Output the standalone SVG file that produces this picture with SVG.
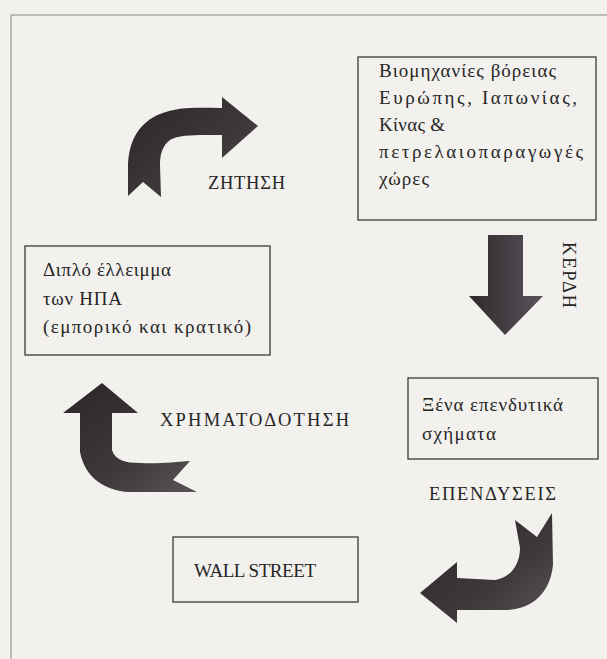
<svg xmlns="http://www.w3.org/2000/svg" width="607" height="659" viewBox="0 0 607 659">
<style>
.box{fill:none;stroke:#3a3a3a;stroke-width:1.3}
.t{font-family:"Liberation Serif","Times New Roman",serif;font-size:19px;fill:#262626}
.lbl{font-family:"Liberation Serif","Times New Roman",serif;font-size:18.5px;fill:#262626}
.arr{stroke:none}
</style>
<defs>
<linearGradient id="g1" x1="0" y1="0" x2="1" y2="1">
<stop offset="0" stop-color="#2b2729"/>
<stop offset="0.6" stop-color="#3d393b"/>
<stop offset="1" stop-color="#5a5558"/>
</linearGradient>
<linearGradient id="g2" x1="0" y1="0" x2="1" y2="0">
<stop offset="0" stop-color="#2e2a2c"/>
<stop offset="1" stop-color="#58535a"/>
</linearGradient>
</defs>
<rect x="0" y="0" width="607" height="659" fill="#f3f1ee"/>
<path d="M11,659 L11,15 L607,15" fill="none" stroke="#8a8785" stroke-width="1"/>

<g id="node-industries">
<rect class="box" x="358" y="57" width="238" height="163"/>
<text class="t" x="379" y="77" textLength="177" lengthAdjust="spacing">Βιομηχανίες βόρειας</text>
<text class="t" x="379" y="104" textLength="198" lengthAdjust="spacing">Ευρώπης, Ιαπωνίας,</text>
<text class="t" x="379" y="131" textLength="66" lengthAdjust="spacing">Κίνας &amp;</text>
<text class="t" x="379" y="158" textLength="204" lengthAdjust="spacing">πετρελαιοπαραγωγές</text>
<text class="t" x="379" y="185" textLength="50" lengthAdjust="spacing">χώρες</text>
</g>

<g id="node-deficit">
<rect class="box" x="25" y="246" width="245" height="109"/>
<text class="t" x="43" y="276" textLength="128" lengthAdjust="spacing">Διπλό έλλειμμα</text>
<text class="t" x="43" y="305" textLength="79" lengthAdjust="spacing">των ΗΠΑ</text>
<text class="t" x="43" y="333" textLength="208" lengthAdjust="spacing">(εμπορικό και κρατικό)</text>
</g>

<g id="node-foreign">
<rect class="box" x="408" y="378" width="190" height="81"/>
<text class="t" x="422" y="411" textLength="141" lengthAdjust="spacing">Ξένα επενδυτικά</text>
<text class="t" x="422" y="440" textLength="74" lengthAdjust="spacing">σχήματα</text>
</g>

<g id="node-wallstreet">
<rect class="box" x="173" y="537" width="185" height="65"/>
<text class="t" x="194" y="577" textLength="122" lengthAdjust="spacing">WALL STREET</text>
</g>

<g id="connectors">
<path class="arr" fill="url(#g1)" d="M128,196 L128,168 C128,140 140,122 160,114 C180,106 200,108 222,108 L222,97 L258,126 L222,158 L222,135 C200,135 180,134 170,140 C162,146 160,155 160,165 L161,197 L143,182 Z"/>
<text class="lbl" x="208" y="189" textLength="77" lengthAdjust="spacing">ΖΗΤΗΣΗ</text>

<path class="arr" fill="url(#g2)" d="M488,235 L523,235 L523,296 L543,296 L505,335 L469,296 L488,296 Z"/>
<text class="lbl" transform="translate(563,242) rotate(90)" textLength="66" lengthAdjust="spacing">ΚΕΡΔΗ</text>

<path class="arr" fill="url(#g1)" d="M420,593 L457,562 L457,578 L495,580 C510,578 520,565 520,548 L515,520 L537,537 L552,513 L553,565 C550,595 530,610 505,610 L457,610 L457,623 Z"/>
<text class="lbl" x="429" y="500" textLength="127" lengthAdjust="spacing">ΕΠΕΝΔΥΣΕΙΣ</text>

<path class="arr" fill="url(#g1)" d="M102,383 L138,413 L112,413 L112,450 C115,460 125,463 140,463 C160,464 175,462 190,461 L173,480 L197,492 L127,492 C105,490 85,478 80,452 L80,413 L63,413 Z"/>
<text class="lbl" x="160" y="426" textLength="189" lengthAdjust="spacing">ΧΡΗΜΑΤΟΔΟΤΗΣΗ</text>
</g>
</svg>
